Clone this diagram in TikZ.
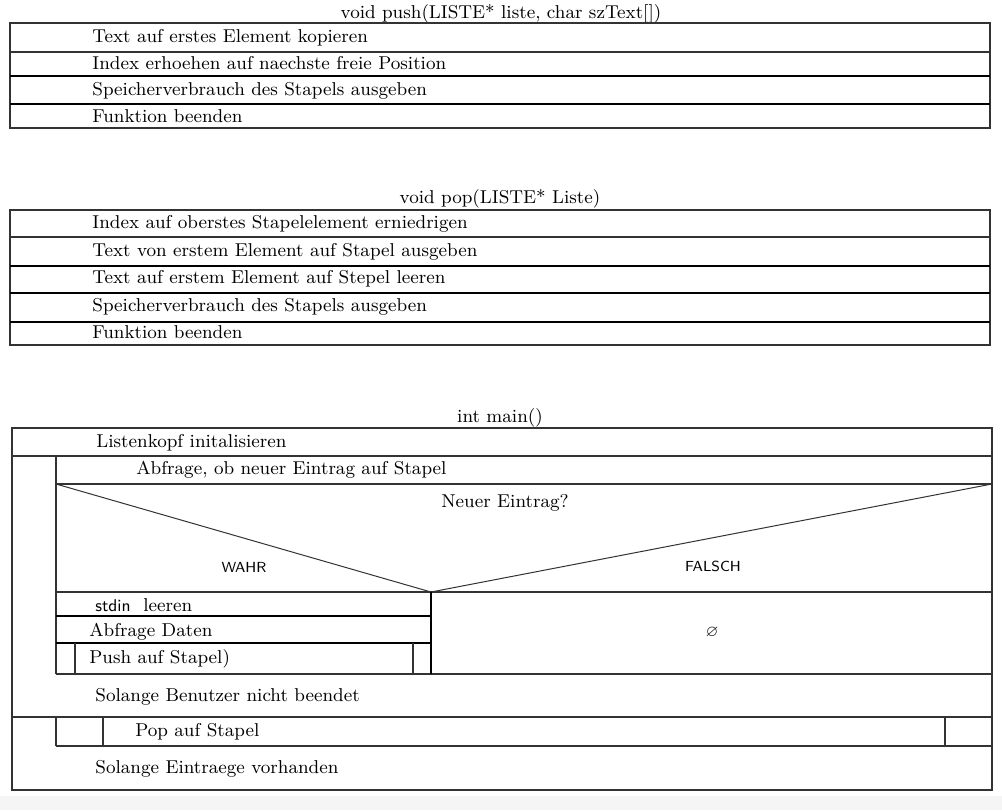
\documentclass[tikz,border=0pt]{standalone}
\usepackage{amssymb}
\begin{document}
\begin{tikzpicture}[x=0.5pt,y=-0.5pt,
  thinline/.style={line width=0.6pt, draw=black!80},
  thickline/.style={line width=1.1pt, draw=black},
  diagline/.style={line width=0.5pt, draw=black!80},
  txt/.style={anchor=base west, inner sep=0pt, font=\fontsize{9.3}{11}\selectfont},
  ttl/.style={anchor=base, inner sep=0pt, font=\fontsize{9.3}{11}\selectfont},
  sanslbl/.style={anchor=base, inner sep=0pt, font=\sffamily\fontsize{7.3}{9}\selectfont},
  sanstxt/.style={anchor=base west, inner sep=0pt, font=\sffamily\fontsize{8.5}{10}\selectfont}]
\useasboundingbox (0,0) rectangle (1002,810);
\fill[white] (0,0) rectangle (1002,810);
\fill[black!4] (0,796) rectangle (1002,810);

% ---------- push ----------
\node[ttl] (pusht) at (501,18) {void push(LISTE* liste, char szText[])};
\draw[thinline] (10,23) rectangle (990,128);
\draw[thinline] (10,52) -- (990,52);
\draw[thickline] (10,76) -- (990,76);
\draw[thickline] (10,104) -- (990,104);
\node[txt] (pu1) at (92,42) {Text auf erstes Element kopieren};
\node[txt] (pu2) at (92,69) {Index erhoehen auf naechste freie Position};
\node[txt] (pu3) at (92,95) {Speicherverbrauch des Stapels ausgeben};
\node[txt] (pu4) at (92,122) {Funktion beenden};

% ---------- pop ----------
\node[ttl] (popt) at (500,203) {void pop(LISTE* Liste)};
\draw[thinline] (10,210) rectangle (990,345);
\draw[thinline] (10,237) -- (990,237);
\draw[thickline] (10,266) -- (990,266);
\draw[thickline] (10,293) -- (990,293);
\draw[thickline] (10,322) -- (990,322);
\node[txt] (po1) at (92,228) {Index auf oberstes Stapelelement erniedrigen};
\node[txt] (po2) at (92,256) {Text von erstem Element auf Stapel ausgeben};
\node[txt] (po3) at (92,283) {Text auf erstem Element auf Stepel leeren};
\node[txt] (po4) at (92,311) {Speicherverbrauch des Stapels ausgeben};
\node[txt] (po5) at (92,338) {Funktion beenden};

% ---------- main ----------
\node[ttl] (maint) at (500,422) {int main()};
\draw[thinline] (12,428) rectangle (992,790);
\draw[thinline] (12,456) -- (992,456);
\draw[thinline] (56,456) -- (56,674);
\draw[thinline] (56,484) -- (992,484);
\draw[diagline] (56,484) -- (431,592) -- (992,484);
\draw[thinline] (56,592) -- (992,592);
\draw[thickline] (56,616) -- (431,616);
\draw[thickline] (56,643) -- (431,643);
\draw[thinline] (56,674) -- (992,674);
\draw[thickline] (431,592) -- (431,674);
\draw[thinline] (75,643) -- (75,674);
\draw[thinline] (413,643) -- (413,674);
\draw[thinline] (12,717) -- (992,717);
\draw[thinline] (56,717) -- (56,746);
\draw[thinline] (56,746) -- (992,746);
\draw[thinline] (103,717) -- (103,746);
\draw[thinline] (945,717) -- (945,746);

\node[txt] (m1) at (96,447) {Listenkopf initalisieren};
\node[txt] (m2) at (136,474) {Abfrage, ob neuer Eintrag auf Stapel};
\node[ttl] (cond) at (505,507) {Neuer Eintrag?};
\node[sanslbl] (wahr) at (244,572) {WAHR};
\node[sanslbl] (falsch) at (713,571) {FALSCH};
\node[sanstxt] (stdin) at (95,611) {stdin};
\node[txt] (leer) at (143,611) {leeren};
\node[txt] (daten) at (89,636) {Abfrage Daten};
\node[txt] (push) at (89,663) {Push auf Stapel)};
\node[inner sep=0pt, font=\sffamily\fontsize{8}{9}\selectfont] (empty) at (712,632) {$\varnothing$};
\node[txt] (loop1) at (95,701) {Solange Benutzer nicht beendet};
\node[txt] (pop) at (135,736) {Pop auf Stapel};
\node[txt] (loop2) at (95,773) {Solange Eintraege vorhanden};
\end{tikzpicture}
\end{document}
